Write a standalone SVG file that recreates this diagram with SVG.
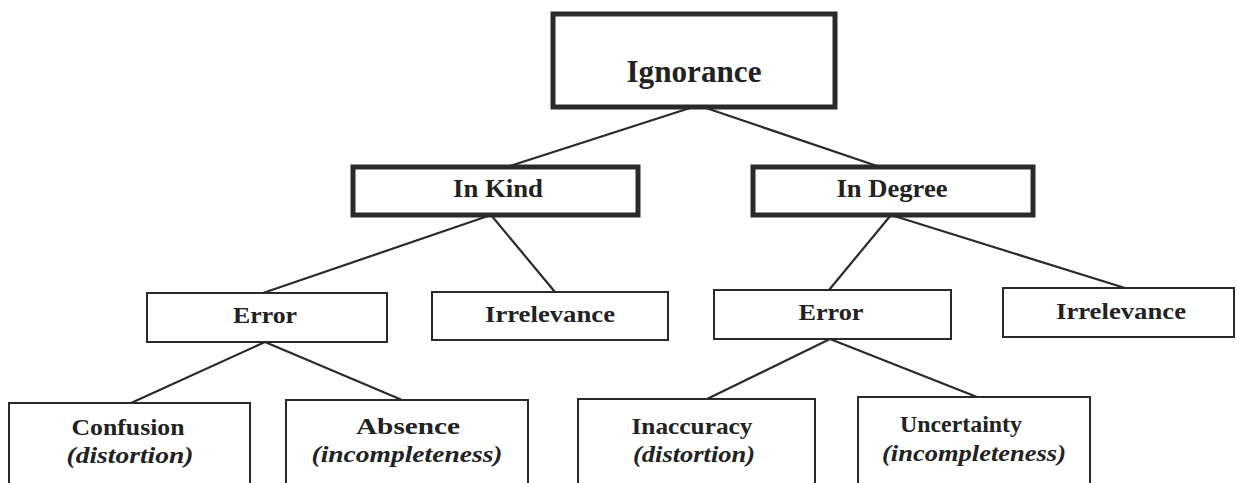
<svg xmlns="http://www.w3.org/2000/svg" width="1237" height="483" viewBox="0 0 1237 483">
<style>
.bg{fill:#fff}
.thick{fill:#fff;stroke:#2a2a2a;stroke-width:5}
.thin{fill:#fff;stroke:#2a2a2a;stroke-width:2}
.t{font-family:"Liberation Serif","Times New Roman",serif;font-weight:bold;fill:#222;text-anchor:middle}
.i{font-style:italic}
#connectors line{stroke:#2a2a2a;stroke-width:2.2}
</style>
<rect class="bg" x="0" y="0" width="1237" height="483"/>
<g id="connectors">
<line x1="690" y1="108" x2="507" y2="167"/>
<line x1="706" y1="108" x2="880" y2="167"/>
<line x1="491" y1="215" x2="263" y2="293"/>
<line x1="491" y1="215" x2="555" y2="292"/>
<line x1="891" y1="215" x2="829" y2="290"/>
<line x1="891" y1="215" x2="1125" y2="288"/>
<line x1="265" y1="342" x2="131" y2="403"/>
<line x1="265" y1="342" x2="402" y2="400"/>
<line x1="830" y1="339" x2="707" y2="399"/>
<line x1="830" y1="339" x2="977" y2="397"/>
</g>
<g id="ignorance">
<rect class="thick" x="553" y="14" width="282" height="93"/>
<text class="t" x="694" y="82" font-size="31" textLength="135" lengthAdjust="spacingAndGlyphs">Ignorance</text>
</g>
<g id="in-kind">
<rect class="thick" x="353" y="167" width="285" height="48"/>
<text class="t" x="498" y="197" font-size="25" textLength="90" lengthAdjust="spacingAndGlyphs">In Kind</text>
</g>
<g id="in-degree">
<rect class="thick" x="753" y="167" width="280" height="48"/>
<text class="t" x="892" y="197" font-size="25" textLength="111" lengthAdjust="spacingAndGlyphs">In Degree</text>
</g>
<g id="error-kind">
<rect class="thin" x="147" y="293" width="240" height="49"/>
<text class="t" x="265" y="323" font-size="24" textLength="64" lengthAdjust="spacingAndGlyphs">Error</text>
</g>
<g id="irrelevance-kind">
<rect class="thin" x="432" y="292" width="236" height="48"/>
<text class="t" x="550" y="322" font-size="24" textLength="130" lengthAdjust="spacingAndGlyphs">Irrelevance</text>
</g>
<g id="error-degree">
<rect class="thin" x="714" y="290" width="237" height="49"/>
<text class="t" x="831" y="320" font-size="24" textLength="65" lengthAdjust="spacingAndGlyphs">Error</text>
</g>
<g id="irrelevance-degree">
<rect class="thin" x="1003" y="288" width="231" height="49"/>
<text class="t" x="1121" y="319" font-size="24" textLength="130" lengthAdjust="spacingAndGlyphs">Irrelevance</text>
</g>
<g id="confusion">
<rect class="thin" x="9" y="403" width="241" height="90"/>
<text class="t" x="128" y="435" font-size="24" textLength="113" lengthAdjust="spacingAndGlyphs">Confusion</text>
<text class="t i" x="130" y="463" font-size="24" textLength="127" lengthAdjust="spacingAndGlyphs">(distortion)</text>
</g>
<g id="absence">
<rect class="thin" x="286" y="400" width="242" height="90"/>
<text class="t" x="408" y="434" font-size="24" textLength="104" lengthAdjust="spacingAndGlyphs">Absence</text>
<text class="t i" x="407" y="462" font-size="24" textLength="191" lengthAdjust="spacingAndGlyphs">(incompleteness)</text>
</g>
<g id="inaccuracy">
<rect class="thin" x="578" y="399" width="237" height="90"/>
<text class="t" x="692" y="434" font-size="24" textLength="121" lengthAdjust="spacingAndGlyphs">Inaccuracy</text>
<text class="t i" x="694" y="462" font-size="24" textLength="122" lengthAdjust="spacingAndGlyphs">(distortion)</text>
</g>
<g id="uncertainty">
<rect class="thin" x="858" y="397" width="232" height="90"/>
<text class="t" x="961" y="432" font-size="24" textLength="122" lengthAdjust="spacingAndGlyphs">Uncertainty</text>
<text class="t i" x="974" y="461" font-size="24" textLength="184" lengthAdjust="spacingAndGlyphs">(incompleteness)</text>
</g>
</svg>
